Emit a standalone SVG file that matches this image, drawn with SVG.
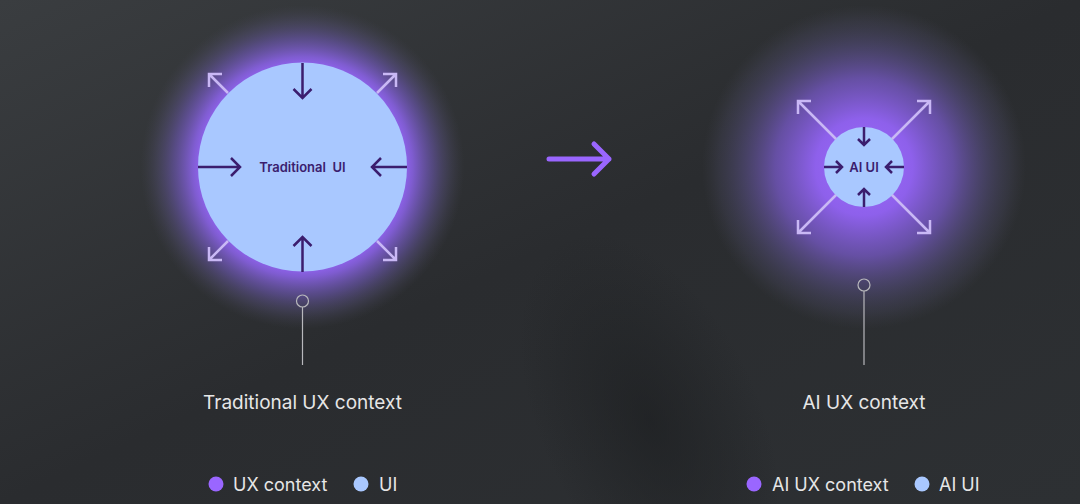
<svg xmlns="http://www.w3.org/2000/svg" width="1080" height="504" viewBox="0 0 1080 504">
  <defs>
    <linearGradient id="bg" x1="0" y1="0" x2="1" y2="1">
      <stop offset="0" stop-color="#3a3d40"/>
      <stop offset="0.5" stop-color="#2a2c2f"/>
      <stop offset="1" stop-color="#2d3033"/>
    </linearGradient>
    <radialGradient id="shade" cx="0.5" cy="0.5" r="0.5">
      <stop offset="0" stop-color="#1b1d1f" stop-opacity="0.6"/>
      <stop offset="0.5" stop-color="#1b1d1f" stop-opacity="0.3"/>
      <stop offset="1" stop-color="#1b1d1f" stop-opacity="0"/>
    </radialGradient>
    <radialGradient id="glowL" cx="302.5" cy="167" r="162" gradientUnits="userSpaceOnUse">
      <stop offset="0.6" stop-color="#9a66ff" stop-opacity="1"/>
      <stop offset="0.68" stop-color="#8a62e6" stop-opacity="0.88"/>
      <stop offset="0.8" stop-color="#6c58b0" stop-opacity="0.62"/>
      <stop offset="0.9" stop-color="#5a5480" stop-opacity="0.35"/>
      <stop offset="1" stop-color="#4a4a5a" stop-opacity="0"/>
    </radialGradient>
    <radialGradient id="glowR" cx="864" cy="167" r="162" gradientUnits="userSpaceOnUse">
      <stop offset="0" stop-color="#a06bff" stop-opacity="1"/>
      <stop offset="0.3" stop-color="#9363f5" stop-opacity="0.95"/>
      <stop offset="0.55" stop-color="#7659c4" stop-opacity="0.78"/>
      <stop offset="0.75" stop-color="#5e5490" stop-opacity="0.5"/>
      <stop offset="0.9" stop-color="#525070" stop-opacity="0.25"/>
      <stop offset="1" stop-color="#4a4a5a" stop-opacity="0"/>
    </radialGradient>
  </defs>
  <style>
    .in { stroke: #3b1d6e; stroke-width: 2.5; fill: none; stroke-linecap: butt; stroke-linejoin: miter; }
    .out { stroke: #c9b8f5; stroke-width: 2.5; fill: none; stroke-linejoin: miter; }
    .ui { fill: #a9c8ff; }
    .uilabel { font-family: Inter, "Noto Sans", sans-serif; font-weight: 600; font-size: 13px; fill: #3b1d6e; text-anchor: middle; }
    .label { font-family: Inter, "Noto Sans", sans-serif; font-size: 19px; fill: #e6e6e6; text-anchor: middle; }
    .legend { font-family: Inter, "Noto Sans", sans-serif; font-size: 18px; fill: #e6e6e6; }
    .pin { stroke: #b8b8bc; stroke-width: 1.2; fill: none; }
  </style>
  <rect width="1080" height="504" fill="url(#bg)"/>
  <ellipse cx="650" cy="420" rx="110" ry="200" fill="url(#shade)" transform="rotate(-25 650 420)"/>

  <g id="traditional">
    <circle cx="302.5" cy="167" r="162" fill="url(#glowL)"/>
    <circle class="ui" cx="302.5" cy="167" r="104.5"/>
    <text class="uilabel" x="302.5" y="172" xml:space="preserve">Traditional  UI</text>
  </g>

  <g id="ai">
    <circle cx="864" cy="167" r="162" fill="url(#glowR)"/>
    <circle class="ui" cx="864" cy="167" r="40"/>
    <text class="uilabel" x="864" y="172">AI UI</text>
  </g>

  <g id="connectors">
    <path class="in" d="M302.5 63 V98 M293.5 89 L302.5 98 L311.5 89"/>
    <path class="in" d="M302.5 272 V237 M293.5 246 L302.5 237 L311.5 246"/>
    <path class="in" d="M198 167 H240 M231 158 L240 167 L231 176"/>
    <path class="in" d="M407 167 H372 M381 158 L372 167 L381 176"/>
    <path class="out" d="M228 93 L209 74 M209 87 V74 H222"/>
    <path class="out" d="M377 93 L396 74 M383 74 H396 V87"/>
    <path class="out" d="M228 241 L209 260 M209 247 V260 H222"/>
    <path class="out" d="M377 241 L396 260 M383 260 H396 V247"/>
    <path class="in" d="M864 127 V145 M858 139 L864 145 L870 139"/>
    <path class="in" d="M864 207 V189 M858 195 L864 189 L870 195"/>
    <path class="in" d="M824 167 H842 M836 161 L842 167 L836 173"/>
    <path class="in" d="M904 167 H886 M892 161 L886 167 L892 173"/>
    <path class="out" d="M836 139 L798 101 M798 114 V101 H811"/>
    <path class="out" d="M892 139 L930 101 M917 101 H930 V114"/>
    <path class="out" d="M836 195 L798 233 M798 220 V233 H811"/>
    <path class="out" d="M892 195 L930 233 M917 233 H930 V220"/>
    <path d="M549 159 H609 M594 144 L609 159 L594 174" stroke="#9a66ff" stroke-width="5" fill="none" stroke-linecap="round" stroke-linejoin="round"/>
    <circle class="pin" cx="302.5" cy="301" r="6"/>
    <line class="pin" x1="302.5" y1="307" x2="302.5" y2="365"/>
    <circle class="pin" cx="864" cy="285" r="6"/>
    <line class="pin" x1="864" y1="291" x2="864" y2="365"/>
  </g>

  <g id="labels">
    <text class="label" x="302.5" y="409">Traditional UX context</text>
    <text class="label" x="864" y="409">AI UX context</text>
  </g>

  <g id="legend">
    <circle cx="216" cy="484" r="7.5" fill="#9a66ff"/>
    <text class="legend" x="233" y="491">UX context</text>
    <circle cx="361" cy="484" r="7.5" fill="#a9c8ff"/>
    <text class="legend" x="379" y="491">UI</text>
    <circle cx="754" cy="484" r="7.5" fill="#9a66ff"/>
    <text class="legend" x="772" y="491">AI UX context</text>
    <circle cx="922" cy="484" r="7.5" fill="#a9c8ff"/>
    <text class="legend" x="939" y="491">AI UI</text>
  </g>
</svg>
